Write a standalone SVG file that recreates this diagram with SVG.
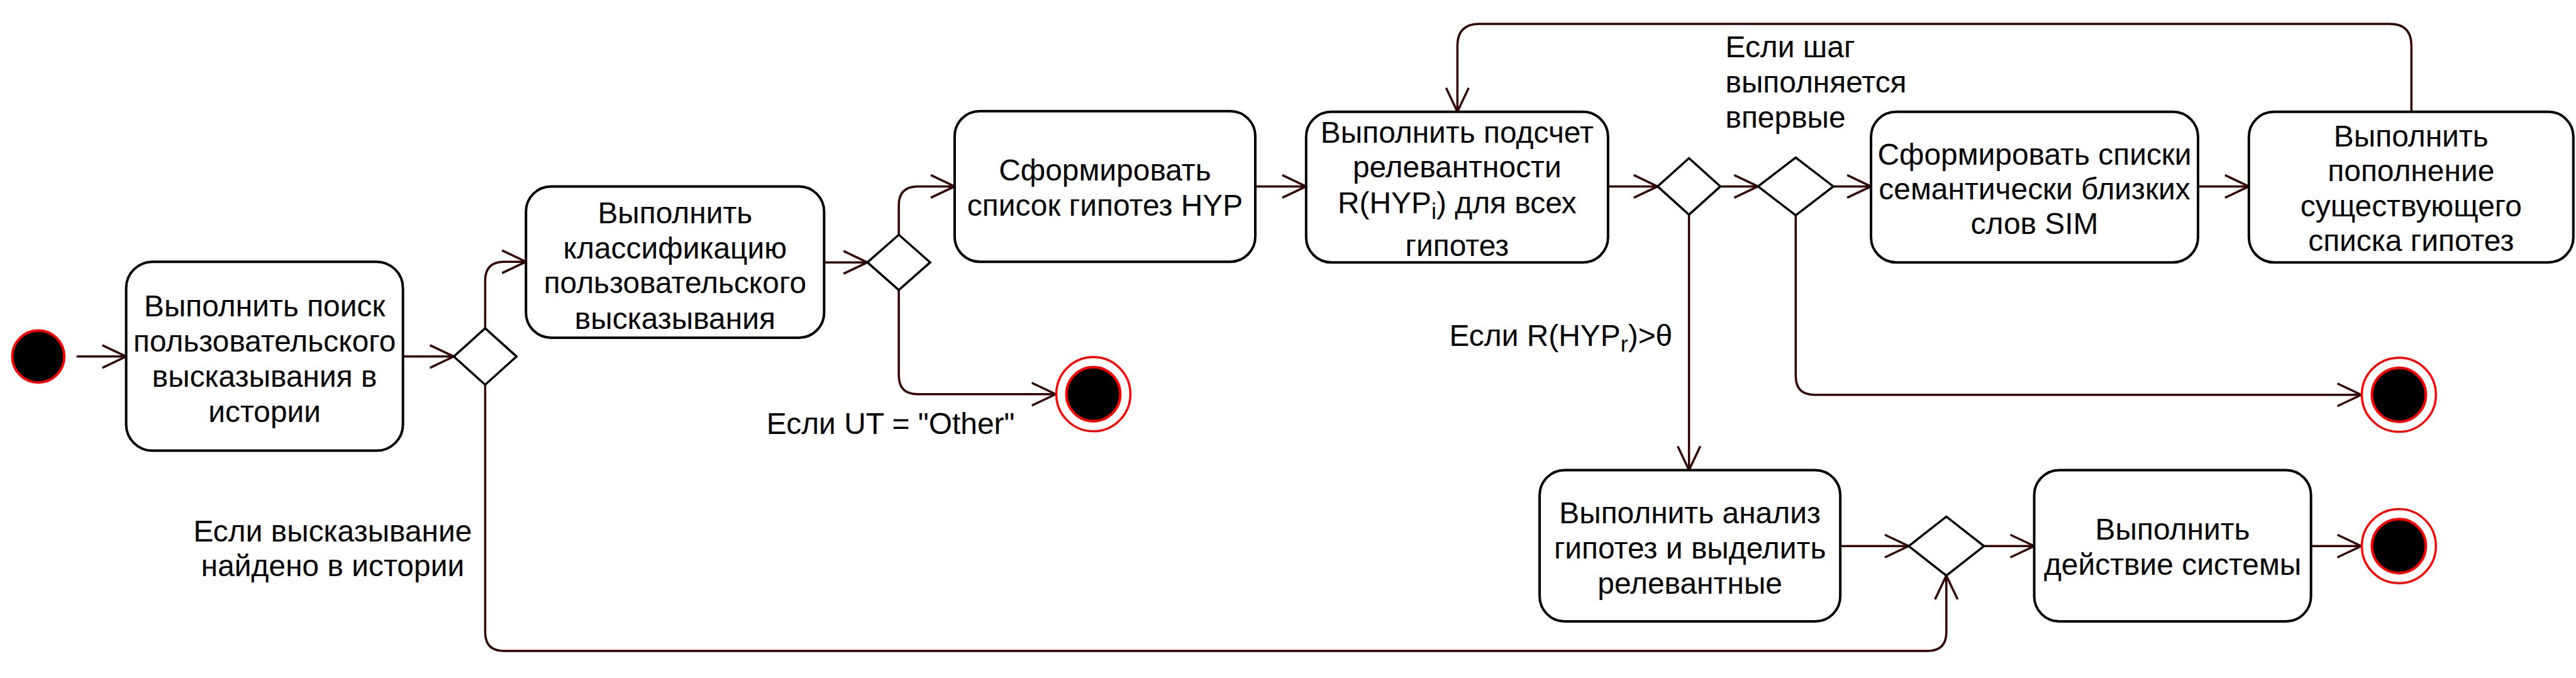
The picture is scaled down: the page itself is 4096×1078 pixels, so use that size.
<svg xmlns="http://www.w3.org/2000/svg" width="4096" height="1078" viewBox="0 0 4096 1078">
<style>
.box{fill:#fff;stroke:#000;stroke-width:4}
.dia{fill:#fff;stroke:#000;stroke-width:3.5}
.t{font-family:"Liberation Sans",Arial,sans-serif;font-size:48px;fill:#000;text-anchor:middle}
.ls{text-anchor:start}
.c{fill:none;stroke:#330000;stroke-width:3.5;marker-end:url(#arr)}
.fin-o{fill:#fff;stroke:#ff0000;stroke-width:3.5}
.fin-i{fill:#000;stroke:#ff0000;stroke-width:4}
</style>
<defs>
<marker id="arr" markerUnits="userSpaceOnUse" orient="auto" overflow="visible" markerWidth="1" markerHeight="1" refX="0" refY="0">
<path d="M-38,-18 L0,0 L-38,18" fill="none" stroke="#330000" stroke-width="3.5"/>
</marker>
</defs>
<rect width="4096" height="1078" fill="#fff"/>
<g transform="scale(0.998)">
<g id="connectors">
<path class="c" d="M122,568 H201"/>
<path class="c" d="M642,568 H723"/>
<path class="c" d="M773,523 V447 Q773,417 803,417 H838"/>
<path class="c" d="M773,613 V1007 Q773,1037 803,1037 H3071 Q3101,1037 3101,1007 V917"/>
<path class="c" d="M1313,418 H1382"/>
<path class="c" d="M1432,374 V327 Q1432,297 1462,297 H1521"/>
<path class="c" d="M1432,462 V598 Q1432,628 1462,628 H1682"/>
<path class="c" d="M2000,297 H2081"/>
<path class="c" d="M2562,297 H2641"/>
<path class="c" d="M2741,297 H2801"/>
<path class="c" d="M2921,297 H2981"/>
<path class="c" d="M3502,297 H3583"/>
<path class="c" d="M3842,178 V73 Q3842,38 3807,38 H2357 Q2322,38 2322,73 V178"/>
<path class="c" d="M2691,342 V749"/>
<path class="c" d="M2861,343 V599 Q2861,629 2891,629 H3762"/>
<path class="c" d="M2932,870 H3041"/>
<path class="c" d="M3161,870 H3241"/>
<path class="c" d="M3682,870 H3762"/>
</g>
<g id="start"><circle cx="61" cy="568" r="41.5" fill="#000" stroke="#ff0000" stroke-width="4"/></g>
<g id="box1">
<rect class="box" x="201" y="417" width="441" height="301" rx="42"/>
<text class="t" x="421.5" y="504">Выполнить поиск</text>
<text class="t" x="421.5" y="560">пользовательского</text>
<text class="t" x="421.5" y="616">высказывания в</text>
<text class="t" x="421.5" y="672">истории</text>
</g>
<g id="d1"><polygon class="dia" points="723,568 773,523 823,568 773,613"/></g>
<g id="box2">
<rect class="box" x="838" y="297" width="475" height="241" rx="40"/>
<text class="t" x="1075.5" y="356">Выполнить</text>
<text class="t" x="1075.5" y="412">классификацию</text>
<text class="t" x="1075.5" y="467">пользовательского</text>
<text class="t" x="1075.5" y="524">высказывания</text>
</g>
<g id="d2"><polygon class="dia" points="1382,418 1432,374 1482,418 1432,462"/></g>
<g id="end1">
<circle class="fin-o" cx="1742" cy="628" r="59"/>
<circle class="fin-i" cx="1742" cy="628" r="43"/>
</g>
<g id="box3">
<rect class="box" x="1521" y="177" width="479" height="240" rx="40"/>
<text class="t" x="1760.5" y="288">Сформировать</text>
<text class="t" x="1760.5" y="344">список гипотез HYP</text>
</g>
<g id="box4">
<rect class="box" x="2081" y="178" width="481" height="240" rx="40"/>
<text class="t" x="2321.5" y="227">Выполнить подсчет</text>
<text class="t" x="2321.5" y="283">релевантности</text>
<text class="t" x="2321.5" y="340">R(HYP<tspan font-size="36" dy="9">i</tspan><tspan dy="-9">) для всех</tspan></text>
<text class="t" x="2321.5" y="408">гипотез</text>
</g>
<g id="d3"><polygon class="dia" points="2641,297 2691,252 2741,297 2691,342"/></g>
<g id="d4"><polygon class="dia" points="2801,297 2861,251 2921,297 2861,343"/></g>
<g id="box5">
<rect class="box" x="2981" y="178" width="521" height="240" rx="40"/>
<text class="t" x="3241.5" y="263">Сформировать списки</text>
<text class="t" x="3241.5" y="318">семантически близких</text>
<text class="t" x="3241.5" y="373">слов SIM</text>
</g>
<g id="box6">
<rect class="box" x="3583" y="178" width="517" height="240" rx="40"/>
<text class="t" x="3841.5" y="233">Выполнить</text>
<text class="t" x="3841.5" y="289">пополнение</text>
<text class="t" x="3841.5" y="345">существующего</text>
<text class="t" x="3841.5" y="400">списка гипотез</text>
</g>
<g id="end2">
<circle class="fin-o" cx="3822" cy="629" r="59"/>
<circle class="fin-i" cx="3822" cy="629" r="43"/>
</g>
<g id="box7">
<rect class="box" x="2453" y="749" width="479" height="241" rx="40"/>
<text class="t" x="2692.5" y="834">Выполнить анализ</text>
<text class="t" x="2692.5" y="890">гипотез и выделить</text>
<text class="t" x="2692.5" y="946">релевантные</text>
</g>
<g id="d5"><polygon class="dia" points="3041,870 3101,823 3161,870 3101,917"/></g>
<g id="box8">
<rect class="box" x="3241" y="749" width="441" height="241" rx="40"/>
<text class="t" x="3461.5" y="860">Выполнить</text>
<text class="t" x="3461.5" y="916">действие системы</text>
</g>
<g id="end3">
<circle class="fin-o" cx="3822" cy="870" r="59"/>
<circle class="fin-i" cx="3822" cy="870" r="43"/>
</g>
<g id="labels">
<text class="t" x="530" y="863">Если высказывание</text>
<text class="t" x="530" y="918">найдено в истории</text>
<text class="t" x="1419" y="691">Если UT = "Other"</text>
<text class="t ls" x="2749" y="91">Если шаг</text>
<text class="t ls" x="2749" y="147">выполняется</text>
<text class="t ls" x="2749" y="203">впервые</text>
<text class="t ls" x="2309" y="551">Если R(HYP<tspan font-size="36" dy="9">r</tspan><tspan dy="-9">)&gt;θ</tspan></text>
</g>
</g>
</svg>
